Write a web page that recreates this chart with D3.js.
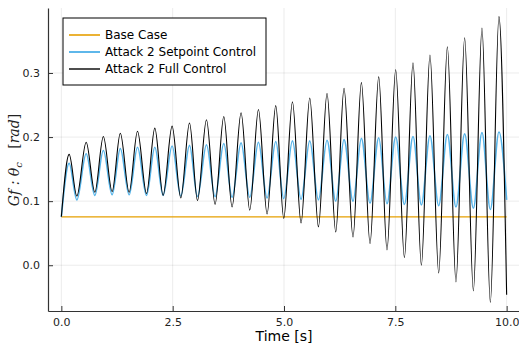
<!DOCTYPE html>
<html>
<head>
<meta charset="utf-8">
<script src="https://cdn.jsdelivr.net/npm/d3@7"></script>
<style>
  body { margin: 0; background: #fff; }
  svg { font-family: "DejaVu Sans", sans-serif; }
</style>
</head>
<body>
<div class="canvas"></div>
<script>
// series names and colours
const seriesNames = ['Base Case', 'Attack 2 Setpoint Control', 'Attack 2 Full Control'];
const seriesColors = ['#E69F00', '#56B4E9', '#000000'];

// tick labels
const xTicks = [0, 2.5, 5, 7.5, 10];
const yTicks = [0, 0.1, 0.2, 0.3];

// base case is flat
const baseTime = [0, 10];
const baseValue = [0.0756, 0.0756];

// turning points (time [s], value [rad])
const setpointTime = [0, 0.175, 0.348, 0.557, 0.752, 0.943, 1.140, 1.324, 1.522, 1.710, 1.912,
  2.099, 2.285, 2.487, 2.682, 2.878, 3.057, 3.259, 3.452, 3.648, 3.834, 4.036, 4.231, 4.426, 4.620,
  4.815, 4.994, 5.190, 5.383, 5.578, 5.773, 5.966, 6.162, 6.348, 6.550, 6.738, 6.932, 7.127, 7.313,
  7.508, 7.704, 7.897, 8.085, 8.278, 8.474, 8.669, 8.862, 9.057, 9.253, 9.446, 9.634, 9.827, 10];
const setpointValue = [0.0756, 0.159, 0.102, 0.174, 0.109, 0.179, 0.110, 0.182, 0.110, 0.184, 0.109,
  0.184, 0.109, 0.186, 0.108, 0.187, 0.107, 0.188, 0.107, 0.190, 0.106, 0.191, 0.106, 0.192, 0.105,
  0.193, 0.104, 0.194, 0.103, 0.194, 0.102, 0.195, 0.100, 0.196, 0.100, 0.198, 0.097, 0.199, 0.096,
  0.200, 0.095, 0.201, 0.094, 0.202, 0.093, 0.204, 0.091, 0.205, 0.089, 0.207, 0.087, 0.208, 0.102];

const fullTime = setpointTime;
const fullValue = [0.0756, 0.173, 0.108, 0.192, 0.114, 0.201, 0.115, 0.206, 0.114, 0.209, 0.112,
  0.214, 0.109, 0.217, 0.105, 0.222, 0.101, 0.227, 0.095, 0.232, 0.091, 0.238, 0.086, 0.243, 0.080,
  0.249, 0.073, 0.255, 0.066, 0.261, 0.060, 0.268, 0.052, 0.276, 0.044, 0.285, 0.034, 0.294, 0.024,
  0.305, 0.012, 0.316, 0.000, 0.328, -0.012, 0.341, -0.026, 0.355, -0.040, 0.370, -0.058, 0.388, -0.046];

const series = [
  { name: seriesNames[0], color: seriesColors[0], t: baseTime, v: baseValue, w: 1.3 },
  { name: seriesNames[1], color: seriesColors[1], t: setpointTime, v: setpointValue, w: 1.6 },
  { name: seriesNames[2], color: seriesColors[2], t: fullTime, v: fullValue, w: 1.1 }
];

const width = 519, height = 344;
const margin = { top: 8, right: 0, bottom: 33, left: 48 };

const svg = d3.select('.canvas')
  .append('svg')
    .attr('width', width)
    .attr('height', height);

const x = d3.scaleLinear()
  .domain([-0.3, 10.3])
  .range([margin.left, margin.left + 472]);

const y = d3.scaleLinear()
  .domain([-0.0714, 0.4014])
  .range([height - margin.bottom, margin.top]);

// grid lines
svg.append('g')
  .selectAll('line.gx')
  .data(xTicks)
  .enter().append('line')
    .attr('x1', d => x(d)).attr('x2', d => x(d))
    .attr('y1', y.range()[0]).attr('y2', y.range()[1])
    .attr('stroke', '#000').attr('stroke-opacity', 0.1).attr('stroke-width', 0.8);

svg.append('g')
  .selectAll('line.gy')
  .data(yTicks)
  .enter().append('line')
    .attr('x1', x.range()[0]).attr('x2', x.range()[1])
    .attr('y1', d => y(d)).attr('y2', d => y(d))
    .attr('stroke', '#000').attr('stroke-opacity', 0.1).attr('stroke-width', 0.8);

// axes, ticks point inward like GR
const xAxis = d3.axisBottom(x)
  .tickValues(xTicks)
  .tickFormat(d3.format('.1f'))
  .tickSizeInner(-5)
  .tickSizeOuter(0)
  .tickPadding(7);

const yAxis = d3.axisLeft(y)
  .tickValues(yTicks)
  .tickFormat(d3.format('.1f'))
  .tickSizeInner(-5)
  .tickSizeOuter(0)
  .tickPadding(8);

const gx = svg.append('g')
  .attr('transform', `translate(0,${y.range()[0]})`)
  .call(xAxis);

const gy = svg.append('g')
  .attr('transform', `translate(${x.range()[0]},0)`)
  .call(yAxis);

[gx, gy].forEach(g => {
  g.select('.domain').attr('stroke', '#333').attr('stroke-width', 1.2);
  g.selectAll('.tick line').attr('stroke', '#333').attr('stroke-width', 1);
  g.selectAll('.tick text').attr('fill', '#222').attr('font-size', 11)
    .attr('font-family', '"DejaVu Sans", sans-serif');
});

// lines
svg.append('clipPath').attr('id', 'plot-clip')
  .append('rect')
    .attr('x', x.range()[0]).attr('y', y.range()[1])
    .attr('width', x.range()[1] - x.range()[0])
    .attr('height', y.range()[0] - y.range()[1]);

const line = d3.line()
  .x(d => x(d[0]))
  .y(d => y(d[1]))
  .curve(d3.curveMonotoneX);

svg.append('g')
  .attr('clip-path', 'url(#plot-clip)')
  .selectAll('path')
  .data(series)
  .enter().append('path')
    .attr('d', s => line(s.t.map((t, i) => [t, s.v[i]])))
    .attr('fill', 'none')
    .attr('stroke', s => s.color)
    .attr('stroke-width', s => s.w)
    .attr('stroke-linejoin', 'round');

// legend
const legend = svg.append('g').attr('transform', 'translate(63,18)');
legend.append('rect')
  .attr('width', 203).attr('height', 67)
  .attr('fill', '#fff').attr('stroke', '#000').attr('stroke-width', 1);

const items = legend.selectAll('g.item')
  .data(series)
  .enter().append('g')
    .attr('transform', (d, i) => `translate(0,${17 + i * 17})`);

items.append('line')
  .attr('x1', 6).attr('x2', 37)
  .attr('stroke', d => d.color)
  .attr('stroke-width', d => d.w + 0.3);

items.append('text')
  .attr('x', 42).attr('dy', '0.35em')
  .attr('font-size', 12)
  .attr('fill', '#000')
  .text(d => d.name);

// axis labels
svg.append('text')
  .attr('x', x(5)).attr('y', 341)
  .attr('text-anchor', 'middle')
  .attr('font-size', 14)
  .text('Time [s]');

const ylab = svg.append('text')
  .attr('transform', 'translate(19,160) rotate(-90)')
  .attr('text-anchor', 'middle')
  .attr('font-family', '"DejaVu Serif", serif')
  .attr('font-style', 'italic')
  .attr('font-size', 14)
  .attr('fill', '#222');
ylab.append('tspan').text('Gf\u00a0:\u00a0θ');
ylab.append('tspan').attr('font-size', 10).attr('dy', 3).text('c');
ylab.append('tspan').attr('dy', -3).attr('font-style', 'normal').text('\u00a0\u00a0\u00a0[');
ylab.append('tspan').text('rad');
ylab.append('tspan').attr('font-style', 'normal').text(']');
</script>
</body>
</html>
